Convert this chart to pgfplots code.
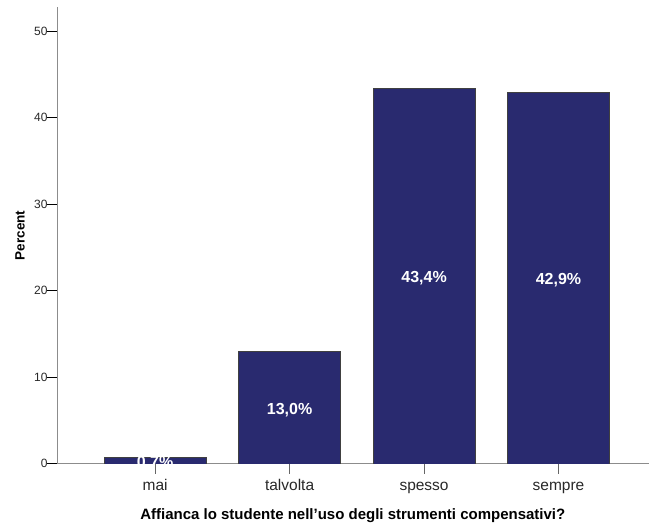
\documentclass[border=0pt]{standalone}
\usepackage{fontspec}
\setmainfont{Liberation Sans}
\usepackage{pgfplots}
\pgfplotsset{compat=1.18}
\definecolor{barblue}{RGB}{41,42,111}
\definecolor{axgray}{RGB}{140,140,140}
\definecolor{txtgray}{RGB}{40,40,40}
\begin{document}
\begin{tikzpicture}
\begin{axis}[
  x=134.5pt, y=8.66pt,
  xmin=-0.73, xmax=3.67, ymin=0, ymax=52.8,
  axis lines*=left,
  axis line style={axgray, line width=0.8pt},
  xtick={0,1,2,3},
  xticklabels={mai,talvolta,spesso,sempre},
  ytick={0,10,20,30,40,50},
  tick align=outside,
  major tick length=10pt,
  x tick style={black!60, line width=0.9pt},
  y tick style={black, line width=0.8pt},
  /pgf/number format/assume math mode=true,
  xticklabel style={font=\fontsize{15.5}{17}\selectfont, text=txtgray, anchor=north, text height=11pt, text depth=4pt, yshift=-2pt},
  yticklabel style={font=\fontsize{12}{14}\selectfont, text=txtgray, xshift=4pt},
  xlabel={Affianca lo studente nell’uso degli strumenti compensativi?},
  ylabel={Percent},
  xlabel style={font=\bfseries\fontsize{15}{17}\selectfont, at={(axis description cs:0.5,-0.1138)}, anchor=center},
  ylabel style={font=\bfseries\fontsize{13.5}{15}\selectfont, at={(axis description cs:-0.0625,0.5)}, anchor=center, rotate=0},
  visualization depends on=rawy\as\rawy,
  nodes near coords={\pgfmathprintnumber[fixed, fixed zerofill, precision=1, use comma]{\pgfplotspointmeta}\%},
  nodes near coords style={anchor=center, text=white, font=\bfseries\fontsize{16}{18}\selectfont, shift={(axis direction cs:0,-\rawy/2)}, yshift=-2.5pt},
]
\addplot[ybar, bar width=102pt, fill=barblue, draw=black!75, line width=0.6pt] coordinates {
  (0,0.7) (1,13.0) (2,43.4) (3,42.9)
};
\end{axis}
\path[use as bounding box] (-57pt,-62pt) rectangle (592pt,464pt);
\end{tikzpicture}
\end{document}
